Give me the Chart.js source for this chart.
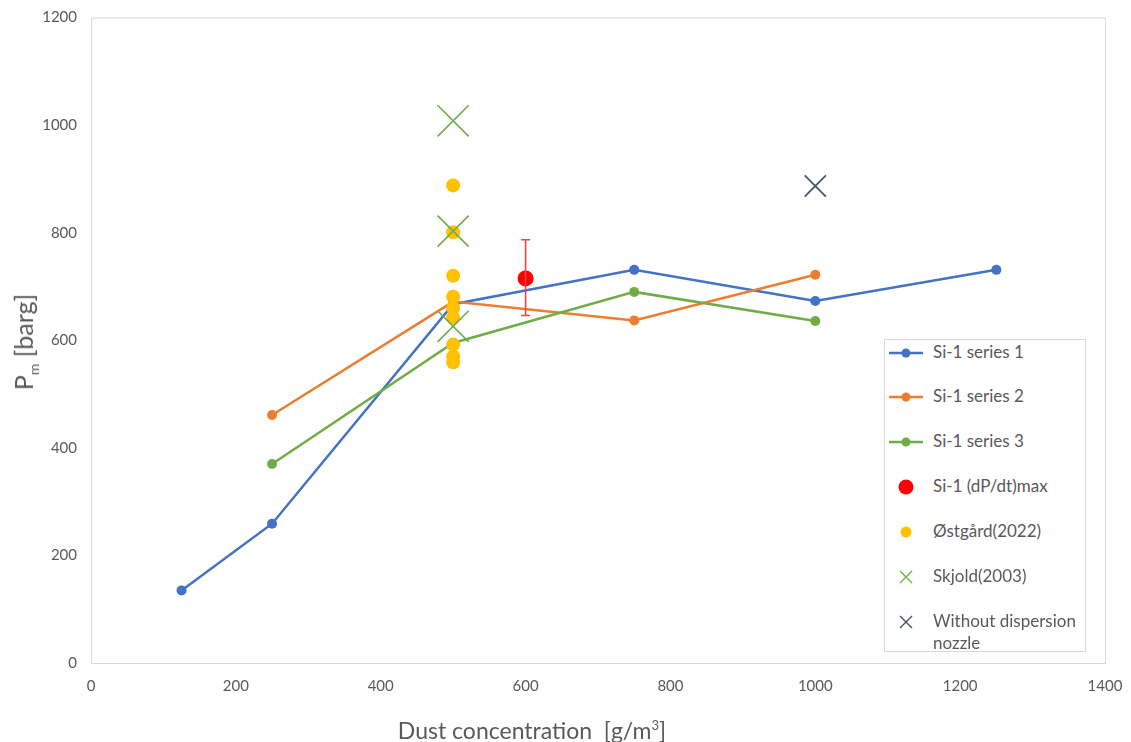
<!DOCTYPE html>
<html>
<head>
<meta charset="utf-8">
<script src="https://cdn.jsdelivr.net/npm/chart.js@4.4.0/dist/chart.umd.min.js"></script>
<style>
  html, body { margin: 0; padding: 0; background: #fff; }
  #wrap { position: relative; width: 1131px; height: 742px; overflow: hidden; font-family: Lato, 'Noto Sans', sans-serif; color: #595959; }
  #chart { position: absolute; left: 0; top: -6px; }
  .ytitle { position: absolute; left: 25px; top: 342px; transform: translate(-50%, -50%) rotate(-90deg); font-size: 25px; white-space: nowrap; }
  .ytitle sub { font-size: 14px; }
  .xtitle { position: absolute; left: 532px; top: 730px; transform: translate(-50%, -50%); font-size: 23px; white-space: nowrap; }
  .xtitle sup { font-size: 13px; }
  #legend { position: absolute; left: 884px; top: 339px; width: 202px; height: 313px; border: 1px solid #d9d9d9; box-sizing: border-box; background: #fff; }
  .item { position: absolute; left: 4px; display: flex; align-items: flex-start; font-size: 17px; line-height: 22px; }
  .item svg { flex: none; margin-top: 1px; }
  .item span { margin-left: 8px; }
</style>
</head>
<body>
<div id="wrap">
  <canvas id="chart" width="1131" height="748"></canvas>
  <div class="ytitle">P<sub>m</sub> [barg]</div>
  <div class="xtitle">Dust concentration&nbsp;&nbsp;[g/m<sup>3</sup>]</div>
  <div id="legend"></div>
</div>
<script>
(function(){
  'use strict';

  // Si-1 test series
  const s1X = [125, 250, 500, 750, 1000, 1250];
  const s1Y = [135, 259, 667, 731, 673, 731];
  const s2X = [250, 500, 750, 1000];
  const s2Y = [461, 672, 637, 722];
  const s3X = [250, 500, 750, 1000];
  const s3Y = [370, 595, 690, 636];

  // (dP/dt)max point with error bar
  const rateX = [600];
  const rateY = [715];
  const rateLow = [646];
  const rateHigh = [787];

  // literature points
  const ostX = [500, 500, 500, 500, 500, 500, 500, 500, 500];
  const ostY = [888, 801, 720, 681, 660, 642, 592, 570, 559];
  const skjX = [500, 500, 500];
  const skjY = [1008, 803, 626];
  const noNozX = [1000];
  const noNozY = [887];

  const names = ['Si-1 series 1', 'Si-1 series 2', 'Si-1 series 3', 'Si-1 (dP/dt)max', 'Østgård(2022)', 'Skjold(2003)', 'Without dispersion nozzle'];
  const colors = ['#4472C4', '#ED7D31', '#70AD47', '#FF0000', '#FFC000', '#70AD47', '#44546A'];

  const xTicks = [0, 200, 400, 600, 800, 1000, 1200, 1400];
  const yTicks = [0, 200, 400, 600, 800, 1000, 1200];

  const pts = (xs, ys) => xs.map((x, i) => ({x, y: ys[i]}));

  function lineSet(i, xs, ys, order){
    return { label: names[i], data: pts(xs, ys), showLine: true, borderColor: colors[i], backgroundColor: colors[i],
      borderWidth: 2.5, pointRadius: 5, pointBorderWidth: 0, pointHoverRadius: 5, order };
  }

  const frame = {
    id: 'frame',
    beforeDatasetsDraw(c){
      const {ctx, chartArea:{left, top, right, bottom}} = c;
      ctx.save();
      ctx.strokeStyle = '#d9d9d9'; ctx.lineWidth = 1;
      ctx.strokeRect(left + 0.5, top + 0.5, right - left, bottom - top);
      ctx.restore();
    }
  };

  const errBars = {
    id: 'errBars',
    afterDatasetsDraw(c){
      const {ctx, scales:{x, y}} = c;
      ctx.save();
      ctx.strokeStyle = '#E04A4A'; ctx.lineWidth = 1.6;
      rateX.forEach((v, i) => {
        const xp = x.getPixelForValue(v);
        const y1 = y.getPixelForValue(rateLow[i]), y2 = y.getPixelForValue(rateHigh[i]);
        ctx.beginPath();
        ctx.moveTo(xp, y1); ctx.lineTo(xp, y2);
        ctx.moveTo(xp - 4.5, y1); ctx.lineTo(xp + 4.5, y1);
        ctx.moveTo(xp - 4.5, y2); ctx.lineTo(xp + 4.5, y2);
        ctx.stroke();
      });
      ctx.restore();
    }
  };

  const tickFont = { family: 'Lato, "Noto Sans", sans-serif', size: 15 };

  new Chart(document.getElementById('chart'), {
    type: 'scatter',
    data: { datasets: [
      lineSet(0, s1X, s1Y, 7),
      lineSet(1, s2X, s2Y, 6),
      lineSet(2, s3X, s3Y, 5),
      { label: names[3], data: pts(rateX, rateY), backgroundColor: colors[3], borderWidth: 0, pointRadius: 8, order: 4 },
      { label: names[4], data: pts(ostX, ostY), backgroundColor: colors[4], borderWidth: 0, pointRadius: 7, order: 3 },
      { label: names[5], data: pts(skjX, skjY), borderColor: colors[5], backgroundColor: colors[5], pointStyle: 'crossRot', pointRadius: 22, pointBorderWidth: 1.6, order: 2 },
      { label: names[6], data: pts(noNozX, noNozY), borderColor: colors[6], backgroundColor: colors[6], pointStyle: 'crossRot', pointRadius: 15, pointBorderWidth: 1.8, order: 1 }
    ] },
    options: {
      responsive: false,
      animation: false,
      layout: { padding: { top: 11, right: 26, left: 0, bottom: 0 } },
      plugins: { legend: { display: false }, tooltip: { enabled: false } },
      scales: {
        x: {
          type: 'linear', min: 0, max: 1400,
          afterFit(s){ s.height = 79; s.paddingLeft = 0; s.paddingRight = 0; },
          afterBuildTicks(s){ s.ticks = xTicks.map(v => ({value: v})); },
          grid: { display: false, drawTicks: false }, border: { display: false },
          ticks: { padding: 14, color: '#595959', font: tickFont, callback: v => String(v) }
        },
        y: {
          type: 'linear', min: 0, max: 1200,
          afterFit(s){ s.width = 91; },
          afterBuildTicks(s){ s.ticks = yTicks.map(v => ({value: v})); },
          grid: { display: false, drawTicks: false }, border: { display: false },
          ticks: { padding: 14, color: '#595959', font: tickFont, callback: v => String(v) }
        }
      }
    },
    plugins: [frame, errBars]
  });

  // legend box
  const legend = document.getElementById('legend');
  const rowTops = [1, 45, 90, 135, 180, 225, 270];
  names.forEach((n, i) => {
    const c = colors[i];
    let sym = '';
    if (i < 3) sym = `<line x1="0" y1="11" x2="34" y2="11" stroke="${c}" stroke-width="2.5"/><circle cx="17" cy="11" r="4.5" fill="${c}"/>`;
    else if (i === 3) sym = `<circle cx="17" cy="11" r="7.5" fill="${c}"/>`;
    else if (i === 4) sym = `<circle cx="17" cy="11" r="5.5" fill="${c}"/>`;
    else sym = `<path d="M11 5 L23 17 M23 5 L11 17" stroke="${c}" stroke-width="1.4"/>`;
    const d = document.createElement('div');
    d.className = 'item';
    d.style.top = rowTops[i] + 'px';
    d.innerHTML = `<svg width="36" height="22">${sym}</svg><span>${i === 6 ? 'Without dispersion<br>nozzle' : n}</span>`;
    legend.appendChild(d);
  });
})();
</script>
</body>
</html>
